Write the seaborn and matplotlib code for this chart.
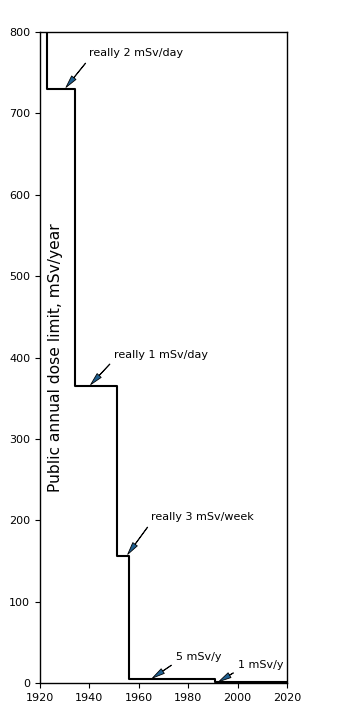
import matplotlib
matplotlib.use("Agg")
import matplotlib.pyplot as plt
import seaborn as sns
import pandas as pd

sns.set_style("white", {"text.color": "black", "axes.labelcolor": "black",
                        "xtick.color": "black", "ytick.color": "black",
                        "axes.edgecolor": "black"})
plt.rcParams['font.family'] = ['DejaVu Sans']

years = [1900, 1923, 1934, 1951, 1956, 1991, 2020]
limits = [3650, 730, 365, 156, 5, 1, 1]

ann_texts = ["really 2 mSv/day", "really 1 mSv/day", "really 3 mSv/week", "5 mSv/y", "1 mSv/y"]
ann_xy = [(1930, 730), (1940, 365), (1955, 156), (1965, 5), (1992, 1)]
ann_xytext = [(1940, 770), (1950, 400), (1965, 200), (1975, 28), (2000, 18)]

xticks = [1920, 1940, 1960, 1980, 2000, 2020]
yticks = [0, 100, 200, 300, 400, 500, 600, 700, 800]

df = pd.DataFrame({"year": years, "limit": limits})

fig = plt.figure(figsize=(3.41, 7.24), dpi=100)
ax = fig.add_axes([40/341, 41/724, 247/341, 651/724])
sns.lineplot(data=df, x="year", y="limit", drawstyle="steps-post", color="black",
             linewidth=1.5, ax=ax)
ax.set_xlim(1920, 2020)
ax.set_ylim(0, 800)
ax.set_xticks(xticks)
ax.set_yticks(yticks)
ax.tick_params(labelsize=8, length=3.5, width=0.8, left=True, bottom=True,
               direction="out", colors="black")
for s in ax.spines.values():
    s.set_visible(True)
    s.set_color("black")
    s.set_linewidth(1.0)
ax.set_xlabel("")
ax.set_ylabel("Public annual dose limit, mSv/year", fontsize=11.2, color="black")
ax.yaxis.set_label_coords(0.095, 0.5)

for t, xy, xyt in zip(ann_texts, ann_xy, ann_xytext):
    ax.annotate(t, xy=xy, xytext=xyt, fontsize=8, color="black",
                arrowprops=dict(facecolor="#1f5f8f", edgecolor="black", width=0.3,
                                headwidth=4, headlength=9, shrink=0.05, linewidth=0.6))

fig.savefig("out.png", dpi=100)
